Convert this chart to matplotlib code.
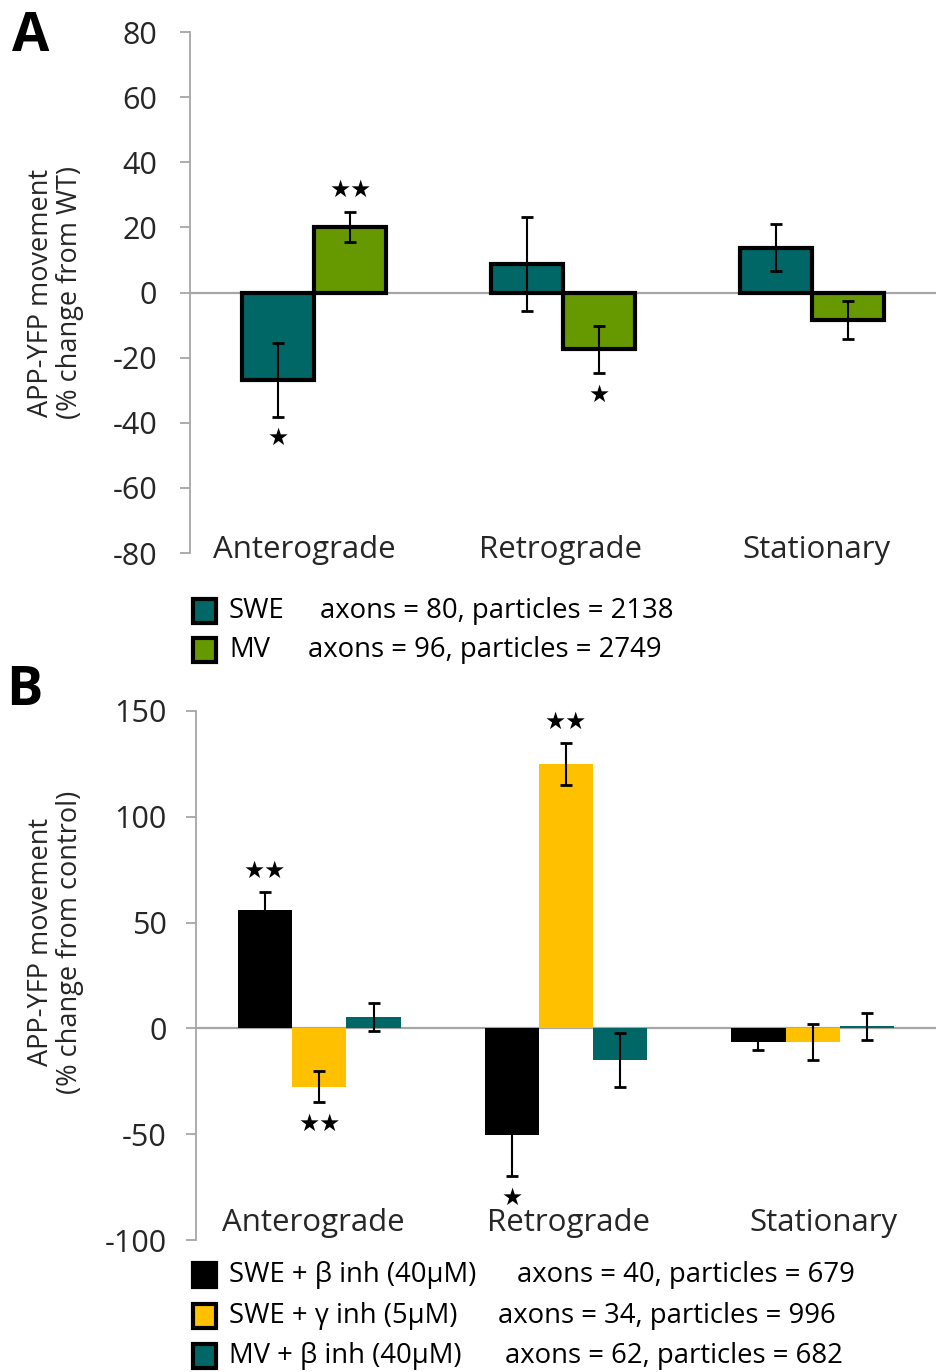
import numpy as np
import matplotlib
matplotlib.use('Agg')
from matplotlib import pyplot as plt
from matplotlib.patches import Rectangle

plt.rcParams['font.family'] = ['Open Sans', 'DejaVu Sans']
plt.rcParams['axes.unicode_minus'] = False

categories = ['Anterograde', 'Retrograde', 'Stationary']

# panel A
a_names = ['SWE', 'MV']
a_info = ['axons = 80, particles = 2138', 'axons = 96, particles = 2749']
a_vals = [[-26.8, 8.8, 13.8], [20.0, -17.5, -8.5]]
a_err = [[11.4, 14.4, 7.1], [4.6, 7.2, 5.8]]
a_colors = ['#006666', '#669900']
a_stars = [(0, 0, -44.5, '★'), (0, 1, 31.5, '★★'), (1, 1, -31.5, '★')]

# panel B
b_names = ['SWE + β inh (40µM)', 'SWE + γ inh (5µM)', 'MV + β inh (40µM)']
b_info = ['axons = 40, particles = 679', 'axons = 34, particles = 996', 'axons = 62, particles = 682']
b_vals = [[55.8, -50.4, -6.4], [-27.5, 125.1, -6.4], [5.4, -14.9, 1.1]]
b_err = [[8.6, 19.5, 3.8], [7.3, 10.0, 8.5], [6.6, 12.6, 6.4]]
b_colors = ['#000000', '#FFC000', '#006666']
b_stars = [(0, 0, 74.5, '★★'), (0, 1, -45.0, '★★'), (1, 1, 145.0, '★★'), (1, 0, -80.0, '★')]

gray = '#A6A6A6'
txt = '#262626'
W, H = 936, 1372
fig = plt.figure(figsize=(W/100, H/100), dpi=100)

def style_axis(ax, ylo, yhi, step, label, pad):
    ax.set_ylim(ylo, yhi)
    ax.set_yticks(np.arange(ylo, yhi + 1, step))
    ax.set_xlim(-0.5, 2.5)
    ax.set_xticks([])
    for s in ['top', 'right', 'bottom']:
        ax.spines[s].set_visible(False)
    ax.spines['left'].set_color(gray)
    ax.spines['left'].set_linewidth(1.3)
    ax.tick_params(axis='y', direction='out', length=7.5, width=1.3, color=gray,
                   labelsize=22, pad=pad, labelcolor=txt)
    ax.axhline(0, color=gray, lw=1.6, zorder=1)
    ax.set_ylabel(label, fontsize=19.5, linespacing=1.05, color=txt)

# ---- A ----
axA = fig.add_axes([190/W, 1 - 553/H, (W - 190)/W, (553 - 32)/H])
style_axis(axA, -80, 80, 20, 'APP-YFP movement\n(% change from WT)', 16)
axA.yaxis.set_label_coords((84 - 190)/(W - 190), 0.5)
x = np.arange(len(categories))
wA = 0.29
for k in range(2):
    pos = x + (k - 0.5) * wA
    axA.bar(pos, a_vals[k], wA, color=a_colors[k], edgecolor='black', linewidth=3, zorder=2)
    axA.errorbar(pos, a_vals[k], yerr=a_err[k], fmt='none', ecolor='black',
                 elinewidth=1.5, capsize=4.5, capthick=2, zorder=3)
for g, k, y, s in a_stars:
    axA.text(g + (k - 0.5) * wA, y, s, ha='center', va='center', fontsize=17,
             family='DejaVu Sans')
for i, c in enumerate(categories):
    axA.text(i - 0.04 + 0.03 * i, -79, c, ha='center', va='center', fontsize=22.5, color=txt)

# ---- B ----
axB = fig.add_axes([196/W, 1 - 1240/H, (W - 196)/W, (1240 - 711)/H])
style_axis(axB, -100, 150, 50, 'APP-YFP movement\n(% change from control)', 13.5)
axB.yaxis.set_label_coords((84 - 196)/(W - 196), 0.563)
wB = 0.22
for k in range(3):
    pos = x + (k - 1) * wB
    axB.bar(pos, b_vals[k], wB, color=b_colors[k], linewidth=0, zorder=2)
    axB.errorbar(pos, b_vals[k], yerr=b_err[k], fmt='none', ecolor='black',
                 elinewidth=1.5, capsize=4.5, capthick=2, zorder=3)
for g, k, y, s in b_stars:
    axB.text(g + (k - 1) * wB, y, s, ha='center', va='center', fontsize=17,
             family='DejaVu Sans')
for i, c in enumerate(categories):
    axB.text(i - 0.025 + 0.035 * i, -92, c, ha='center', va='center', fontsize=22.5, color=txt)

# panel letters
fig.text(12/W, 1 - 37/H, 'A', fontsize=39, fontweight='bold', va='center')
fig.text(6/W, 1 - 691/H, 'B', fontsize=39, fontweight='bold', va='center')

# legends
def legend_rows(names, info, colors, y0, dy, info_x, edge):
    for j in range(len(names)):
        yc = y0 + j * dy
        fig.patches.append(Rectangle((193/W, 1 - (yc + 12)/H), 23/W, 24/H,
                                     transform=fig.transFigure, facecolor=colors[j],
                                     edgecolor='black', linewidth=edge))
        fig.text(229/W, 1 - yc/H, names[j], fontsize=19.8, va='center', color='black')
        fig.text(info_x[j]/W, 1 - yc/H, info[j], fontsize=19.8, va='center', color='black')

legend_rows(a_names, a_info, a_colors, 611, 39, [320, 308], 3)
legend_rows(b_names, b_info, b_colors, 1275, 40.5, [517, 498, 505], 3)

fig.savefig('out.png', dpi=100)
